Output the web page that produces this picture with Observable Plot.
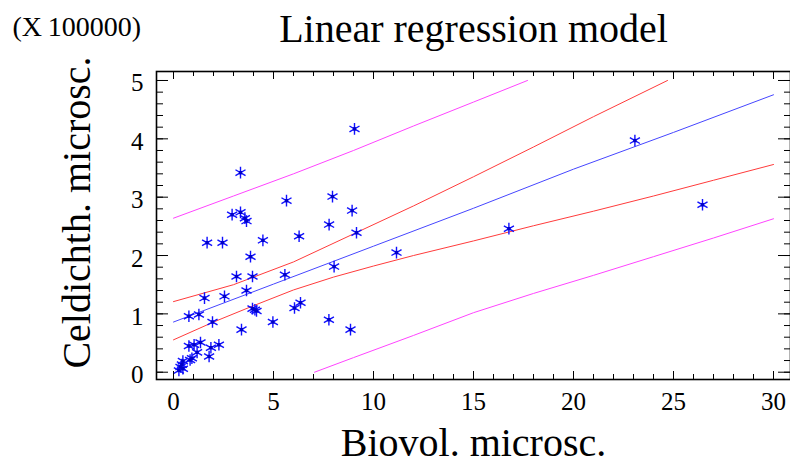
<!DOCTYPE html>
<html><head><meta charset="utf-8">
<script src="https://cdn.jsdelivr.net/npm/d3@7"></script>
<script src="https://cdn.jsdelivr.net/npm/@observablehq/plot@0.6"></script>
<style>
  body { margin: 0; background: #fff; }
  #chart { width: 790px; height: 464px; }
  #chart svg text { font-family: 'Liberation Serif', 'Times New Roman', Times, serif; }
</style>
</head><body><div id="chart"></div>
<script>
// ---- data ----
const titleText = "Linear regression model";
const scaleNote = "(X\u2009100000)";
const xLabel = "Biovol. microsc.";
const yLabel = "Celdichth. microsc.";

const biovol = [9.05, 3.35, 5.65, 7.95, 2.93, 3.35, 3.57, 3.65, 8.93, 7.78, 6.28, 9.15, 1.68, 2.45, 4.47, 3.85, 11.15, 8.03,
  3.15, 3.95, 5.57, 3.65, 1.55, 2.55, 3.95, 4.07, 4.15, 6.35, 6.05, 0.77, 1.27, 1.95, 3.40, 4.97, 7.77, 8.85,
  0.77, 1.03, 1.35, 2.27, 1.87, 1.18, 1.78, 0.92, 0.83, 0.47, 0.42, 0.35, 0.27, 0.47, 23.07, 16.77, 26.45];
const celdichth = [4.17, 3.42, 2.94, 3.01, 2.70, 2.74, 2.64, 2.59, 2.77, 2.53, 2.33, 2.39, 2.22, 2.22, 2.26, 1.98, 2.05, 1.81,
  1.64, 1.64, 1.67, 1.40, 1.27, 1.30, 1.09, 1.07, 1.05, 1.19, 1.10, 0.96, 0.99, 0.86, 0.73, 0.86, 0.90, 0.73,
  0.45, 0.47, 0.51, 0.47, 0.42, 0.34, 0.27, 0.24, 0.21, 0.19, 0.13, 0.09, 0.03, 0.06, 3.97, 2.46, 2.87];

const fitX = [0, 5, 10, 15, 20, 25, 30];
const fitY = [0.86, 1.51, 2.16, 2.81, 3.48, 4.11, 4.755];

const confUpX = [0, 3, 6, 9, 12, 15, 18, 21, 24.7];
const confUpY = [1.21, 1.50, 1.89, 2.37, 2.85, 3.35, 3.86, 4.38, 5.0];
const confLoX = [0, 2, 4, 6, 8, 10, 12, 15, 18, 21, 24, 27, 30];
const confLoY = [0.555, 0.86, 1.14, 1.41, 1.63, 1.82, 2.00, 2.25, 2.51, 2.76, 3.02, 3.29, 3.56];

const predUpX = [0, 3, 6, 9, 12, 15, 17.7];
const predUpY = [2.64, 3.02, 3.40, 3.80, 4.22, 4.63, 5.0];
const predLoX = [7.05, 9, 12, 15, 18, 21, 24, 27, 30];
const predLoY = [0.0, 0.25, 0.63, 1.02, 1.35, 1.66, 1.98, 2.30, 2.63];

const xTickLabels = [0, 5, 10, 15, 20, 25, 30];
const xMinorTicks = d3.range(0, 31, 1);
const yTickLabels = [0, 1, 2, 3, 4, 5];
const yMinorTicks = d3.range(0, 26, 1).map(i => i * 0.2);

// ---- chart ----
const W = 790, H = 464, ML = 156, MR = 0, MT = 71, MB = 85;
const FW = W - ML - MR, FH = H - MT - MB;
const serif = "'Liberation Serif', 'Times New Roman', Times, serif";

const points = biovol.map((x, i) => ({x, y: celdichth[i]}));
const toXY = (xs, ys) => xs.map((x, i) => ({x, y: ys[i]}));

const chart = Plot.plot({
  width: W, height: H,
  marginLeft: ML, marginRight: MR, marginTop: MT, marginBottom: MB,
  x: {domain: [-0.85, 30.85], axis: null},
  y: {domain: [-0.125, 5.154], axis: null},
  style: {fontFamily: serif, background: "#fff", color: "#000"},
  marks: [
    // tick marks (inside frame)
    Plot.ruleX(xMinorTicks, {x: d => d, insetTop: FH - 5, stroke: "#000"}),
    Plot.ruleX(xTickLabels, {x: d => d, insetTop: FH - 8, stroke: "#000"}),
    Plot.ruleX(xMinorTicks, {x: d => d, insetBottom: FH - 5, stroke: "#000"}),
    Plot.ruleX(xTickLabels, {x: d => d, insetBottom: FH - 8, stroke: "#000"}),
    Plot.ruleY(yMinorTicks, {y: d => d, insetRight: FW - 7, stroke: "#000"}),
    Plot.ruleY(yTickLabels, {y: d => d, insetRight: FW - 12, stroke: "#000"}),
    Plot.ruleY(yMinorTicks, {y: d => d, insetLeft: FW - 6, stroke: "#000"}),
    Plot.ruleY(yTickLabels, {y: d => d, insetLeft: FW - 12, stroke: "#000"}),
    Plot.frame({stroke: "#000", strokeWidth: 1.6}),
    // tick labels
    Plot.text(xTickLabels, {x: d => d, text: d => String(d), frameAnchor: "bottom", textAnchor: "middle",
      lineAnchor: "top", dy: 13, fontSize: 25, fill: "#000", fontFamily: serif}),
    Plot.text(yTickLabels, {y: d => d, text: d => String(d), frameAnchor: "left", textAnchor: "end",
      lineAnchor: "middle", dx: -13, dy: 3, fontSize: 25, fill: "#000", fontFamily: serif}),
    // bands & fit
    Plot.line(toXY(predUpX, predUpY), {x: "x", y: "y", stroke: "#ff44ff", strokeWidth: 1}),
    Plot.line(toXY(predLoX, predLoY), {x: "x", y: "y", stroke: "#ff44ff", strokeWidth: 1}),
    Plot.line(toXY(confUpX, confUpY), {x: "x", y: "y", stroke: "#ff3b3b", strokeWidth: 1}),
    Plot.line(toXY(confLoX, confLoY), {x: "x", y: "y", stroke: "#ff3b3b", strokeWidth: 1}),
    Plot.line(toXY(fitX, fitY), {x: "x", y: "y", stroke: "#4646ff", strokeWidth: 1}),
    // observations
    Plot.dot(points, {x: "x", y: "y", symbol: "asterisk", r: 5.5, stroke: "#1010ff", strokeWidth: 1.4}),
    Plot.dot(points, {x: "x", y: "y", symbol: "square", r: 1.9, fill: "#0000c8"}),
    // titles
    Plot.text([titleText], {frameAnchor: "top", text: d => d, textAnchor: "middle", lineAnchor: "bottom",
      dy: -30, fontSize: 40, fill: "#000", fontFamily: serif}),
    Plot.text([scaleNote], {frameAnchor: "top-left", text: d => d, textAnchor: "start", lineAnchor: "bottom",
      dx: -144, dy: -36, fontSize: 28, fill: "#000", fontFamily: serif}),
    Plot.text([xLabel], {frameAnchor: "bottom", text: d => d, textAnchor: "middle", lineAnchor: "bottom",
      dy: 76, fontSize: 40, fill: "#000", fontFamily: serif}),
    Plot.text([yLabel], {frameAnchor: "left", text: d => d, textAnchor: "middle", lineAnchor: "bottom",
      rotate: -90, dx: -67, dy: -13, fontSize: 40, fill: "#000", fontFamily: serif})
  ]
});
document.getElementById("chart").appendChild(chart);
</script>
</body></html>
